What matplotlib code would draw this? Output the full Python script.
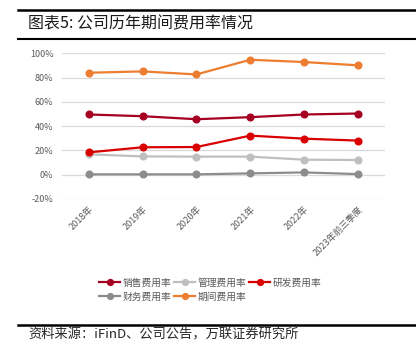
import matplotlib
matplotlib.use("Agg")
import matplotlib.pyplot as plt
from matplotlib.lines import Line2D
from matplotlib.ticker import FuncFormatter

plt.rcParams['font.family'] = ['Noto Sans CJK SC', 'DejaVu Sans']

categories = ["2018年", "2019年", "2020年", "2021年", "2022年", "2023年前三季度"]
sales = [49.6, 48.2, 45.7, 47.4, 49.6, 50.4]
admin = [16.8, 15.1, 14.9, 14.9, 12.4, 12.1]
rnd = [18.4, 22.6, 22.8, 32.2, 29.7, 28.1]
finance = [0.3, 0.3, 0.3, 1.1, 1.9, 0.5]
period = [84.0, 85.1, 82.6, 94.7, 92.8, 90.1]

series = [
    ("销售费用率", sales, "#A50021"),
    ("管理费用率", admin, "#BFBFBF"),
    ("研发费用率", rnd, "#D90000"),
    ("财务费用率", finance, "#8C8C8C"),
    ("期间费用率", period, "#ED7D31"),
]

W, H = 416, 344
fig = plt.figure(figsize=(W / 100, H / 100), dpi=100)
ax = fig.add_axes([61.7 / W, 1 - 199 / H, (385 - 61.7) / W, (199 - 53.3) / H])

x = list(range(len(categories)))
order = [1, 3, 0, 2, 4]
for i in order:
    name, vals, col = series[i]
    ax.plot(x, vals, color=col, lw=1.6, marker="o", ms=4.8, clip_on=False, zorder=3)

ax.set_xlim(-0.5, len(categories) - 0.5)
ax.set_ylim(-20, 100)
ax.set_yticks(range(-20, 101, 20))
ax.yaxis.set_major_formatter(FuncFormatter(lambda v, p: f"{int(v)}%"))
ax.grid(axis="y", color="#D9D9D9", lw=0.9)
ax.set_axisbelow(True)
for s in ax.spines.values():
    s.set_visible(False)
ax.tick_params(axis="both", length=0, labelsize=6.5, colors="#595959")
ax.tick_params(axis="y", pad=6)
ax.set_xticks(x)
ax.set_xticklabels(categories, rotation=45, ha="right", va="top", rotation_mode="anchor")
ax.tick_params(axis="x", pad=4)

# legend: row-major order (matplotlib fills columns first)
leg_order = [0, 3, 1, 4, 2]
handles = [Line2D([0], [0], color=series[i][2], lw=1.6, marker="o", ms=4.2) for i in leg_order]
labels = [series[i][0] for i in leg_order]
leg = fig.legend(handles, labels, ncol=3, loc="upper left",
                 bbox_to_anchor=(95 / W, 1 - 274 / H), frameon=False,
                 fontsize=7, handlelength=2.2, handletextpad=0.25,
                 columnspacing=0.25, labelspacing=0.4, borderaxespad=0)
for t in leg.get_texts():
    t.set_color("#595959")

fig.add_artist(Line2D([18 / W, 1], [1 - 10 / H, 1 - 10 / H], color="black", lw=1.8))
fig.add_artist(Line2D([18 / W, 1], [1 - 38.5 / H, 1 - 38.5 / H], color="black", lw=1.5))
fig.text(28 / W, 1 - 24 / H, "图表5: 公司历年期间费用率情况", fontsize=11.5, va="center",
         ha="left", color="#1a1a1a")
fig.add_artist(Line2D([18 / W, 1], [1 - 325 / H, 1 - 325 / H], color="black", lw=1.8))
fig.text(28 / W, 1 - 335.5 / H, "资料来源：iFinD、公司公告，万联证券研究所", fontsize=9.5,
         va="center", ha="left", color="#262626", style="italic")

fig.savefig("out.png", dpi=100)
